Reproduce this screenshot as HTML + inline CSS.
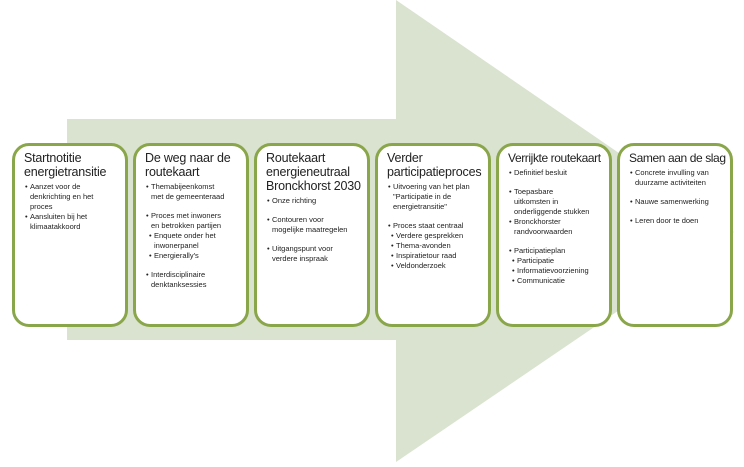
<!DOCTYPE html>
<html><head><meta charset="utf-8"><style>
body{margin:0;width:744px;height:467px;background:#fff;position:relative;overflow:hidden;font-family:"Liberation Sans",sans-serif}
svg{position:absolute;left:0;top:0}
.b{position:absolute;top:143px;width:110px;height:178px;border:3px solid #8aa64a;border-radius:17px;background:#fff;box-sizing:content-box}
.t{margin:5px 0 0 9px;font-size:12.5px;line-height:14px;color:#222;letter-spacing:-0.2px}
ul{margin:3px 18px 0 10px;padding:0;list-style:none;font-size:7.5px;line-height:10px;color:#222}
li{position:relative;padding-left:5px}
li:before{content:"•";position:absolute;left:0}
.s{margin-left:3px}
.g{margin-top:9px}
</style></head><body>
<svg width="744" height="467"><polygon points="67,119 396,119 396,0 734,232 396,462 396,340 67,340" fill="#d9e3cf"/></svg>
<div class="b" style="left:12px"><div class="t">Startnotitie energietransitie</div><ul><li>Aanzet voor de denkrichting en het proces</li><li>Aansluiten bij het klimaatakkoord</li></ul></div>
<div class="b" style="left:133px"><div class="t">De weg naar de routekaart</div><ul><li>Themabijeenkomst met de gemeenteraad</li><li class="g">Proces met inwoners en betrokken partijen</li><li class="s">Enquete onder het inwonerpanel</li><li class="s">Energierally's</li><li class="g">Interdisciplinaire denktanksessies</li></ul></div>
<div class="b" style="left:254px"><div class="t">Routekaart energieneutraal Bronckhorst 2030</div><ul><li>Onze richting</li><li class="g">Contouren voor mogelijke maatregelen</li><li class="g">Uitgangspunt voor verdere inspraak</li></ul></div>
<div class="b" style="left:375px"><div class="t">Verder participatieproces</div><ul><li>Uitvoering van het plan "Participatie in de energietransitie"</li><li class="g">Proces staat centraal</li><li class="s">Verdere gesprekken</li><li class="s">Thema-avonden</li><li class="s">Inspiratietour raad</li><li class="s">Veldonderzoek</li></ul></div>
<div class="b" style="left:496px"><div class="t" style="white-space:nowrap;font-size:12px;letter-spacing:-0.4px">Verrijkte routekaart</div><ul><li>Definitief besluit</li><li class="g">Toepasbare uitkomsten in onderliggende stukken</li><li>Bronckhorster randvoorwaarden</li><li class="g">Participatieplan</li><li class="s">Participatie</li><li class="s">Informatievoorziening</li><li class="s">Communicatie</li></ul></div>
<div class="b" style="left:617px"><div class="t" style="white-space:nowrap;font-size:12px;letter-spacing:-0.4px">Samen aan de slag</div><ul><li>Concrete invulling van duurzame activiteiten</li><li class="g">Nauwe samenwerking</li><li class="g">Leren door te doen</li></ul></div>
</body></html>
